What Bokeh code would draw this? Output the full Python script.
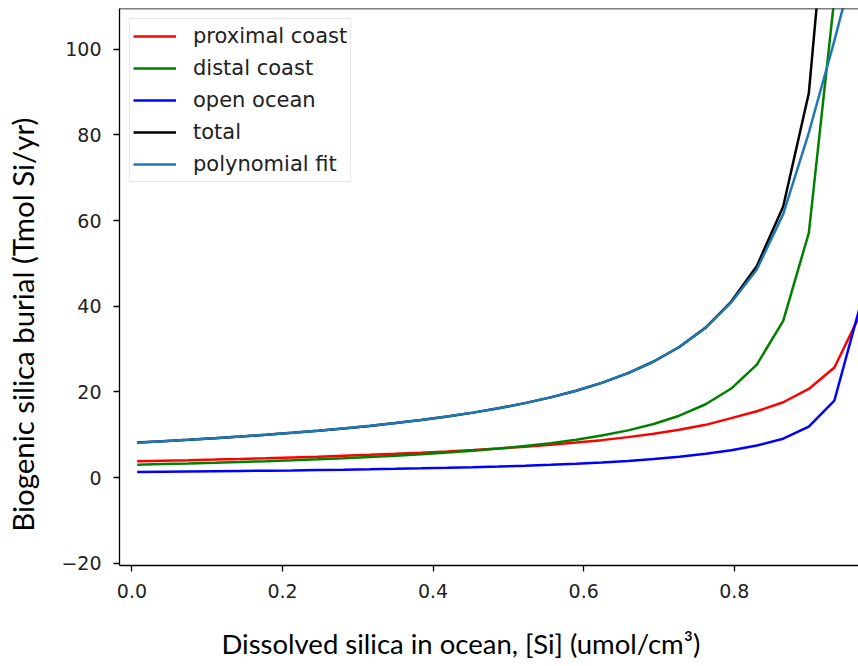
from bokeh.plotting import figure
from bokeh.models import Span, Legend, LegendItem, FixedTicker, LinearAxis
from bokeh.embed import file_html
from bokeh.resources import INLINE

# ---- data ----
si = [0.007, 0.041, 0.075, 0.110, 0.144, 0.178, 0.213, 0.247, 0.281, 0.316,
      0.350, 0.384, 0.419, 0.453, 0.487, 0.522, 0.556, 0.590, 0.624, 0.659,
      0.693, 0.727, 0.762, 0.796, 0.830, 0.865, 0.899, 0.933, 0.967]

proximal = [3.82, 3.94, 4.07, 4.22, 4.37, 4.53, 4.71, 4.89, 5.10, 5.32,
            5.57, 5.83, 6.13, 6.45, 6.81, 7.22, 7.67, 8.18, 8.76, 9.46,
            10.25, 11.18, 12.33, 13.9, 15.5, 17.6, 20.7, 25.7, 38.0]

distal = [3.03, 3.17, 3.31, 3.48, 3.65, 3.84, 4.05, 4.27, 4.52, 4.80,
          5.11, 5.45, 5.85, 6.28, 6.78, 7.38, 8.06, 8.86, 9.82, 11.04,
          12.53, 14.46, 17.13, 20.8, 26.4, 36.6, 57.1, 112.0, 260.0]

open_ocean = [1.35, 1.40, 1.45, 1.51, 1.57, 1.63, 1.70, 1.78, 1.86, 1.96,
              2.06, 2.17, 2.30, 2.45, 2.61, 2.80, 3.01, 3.25, 3.54, 3.90,
              4.33, 4.86, 5.56, 6.4, 7.5, 9.1, 11.9, 18.0, 40.0]

total = [8.20, 8.51, 8.83, 9.21, 9.59, 10.00, 10.46, 10.94, 11.48, 12.08,
         12.74, 13.45, 14.28, 15.18, 16.20, 17.40, 18.74, 20.29, 22.12, 24.40,
         27.11, 30.50, 35.02, 41.1, 49.4, 63.3, 89.7, 155.7, 340.0]

poly_fit = [8.15, 8.50, 8.84, 9.22, 9.60, 10.01, 10.47, 10.95, 11.49, 12.09,
            12.75, 13.46, 14.28, 15.18, 16.20, 17.40, 18.74, 20.29, 22.12, 24.40,
            27.11, 30.50, 35.0, 40.9, 48.6, 61.5, 80.5, 102.0, 125.0]

x_ticks = [0.0, 0.2, 0.4, 0.6, 0.8]
y_ticks = [-20, 0, 20, 40, 60, 80, 100]

x_title = "Dissolved silica in ocean, [Si] (umol/cm\u00b3)"
y_title = "Biogenic silica burial (Tmol Si/yr)"

series = [
    ("proximal coast", proximal, "#ff0000"),
    ("distal coast", distal, "#008000"),
    ("open ocean", open_ocean, "#0000ff"),
    ("total", total, "#000000"),
    ("polynomial fit", poly_fit, "#1f77b4"),
]

p = figure(width=858, height=666, output_backend="svg", toolbar_location=None,
           x_range=(-0.0165, 0.965), y_range=(-20.5, 109.5),
           min_border_left=119, min_border_right=0, min_border_top=8,
           min_border_bottom=101)
p.outline_line_color = None
p.background_fill_color = "white"
p.border_fill_color = "white"
p.xgrid.visible = False
p.ygrid.visible = False

items = []
for name, ys, col in series:
    r = p.line(si, ys, line_color=col, line_width=2.5)
    items.append(LegendItem(label=name, renderers=[r]))

for ax in (p.xaxis[0], p.yaxis[0]):
    ax.axis_line_color = "black"
    ax.axis_line_width = 1.3
    ax.major_tick_line_color = "black"
    ax.major_tick_line_width = 1.3
    ax.major_tick_out = 6
    ax.major_tick_in = 0
    ax.minor_tick_line_color = None
    ax.major_label_text_font = "DejaVu Sans"
    ax.major_label_text_font_size = "19px"
    ax.major_label_text_color = "#222222"
    ax.major_label_standoff = 12

p.xaxis.ticker = FixedTicker(ticks=x_ticks)
p.yaxis.ticker = FixedTicker(ticks=y_ticks)
p.xaxis.major_label_overrides = {t: f"{t:.1f}" for t in x_ticks}
p.yaxis.major_label_overrides = {t: (f"\u2212{abs(t)}" if t < 0 else f"{t}") for t in y_ticks}

# top spine
p.add_layout(Span(location=109.5, dimension="width", line_color="black", line_width=1.3))

legend = Legend(items=items, location="top_left", margin=10,
                label_text_font="DejaVu Sans", label_text_font_size="21px",
                label_text_color="#222222",
                glyph_width=43, glyph_height=28, label_height=28,
                label_standoff=17, spacing=4, padding=3,
                border_line_color="#d0d0d0", border_line_width=1,
                background_fill_color="white", background_fill_alpha=0.8)
p.add_layout(legend)

# axis titles carried by tick-less helper axes; trailing no-break spaces move the
# visible text off the frame centre, as in the reference
def title_axis(text, size, standoff):
    return LinearAxis(ticker=FixedTicker(ticks=[]),
                      axis_line_color=None, major_tick_line_color=None,
                      minor_tick_line_color=None, major_tick_out=0, major_tick_in=0,
                      major_label_standoff=0, major_label_text_font_size="0px",
                      axis_label=text, axis_label_standoff=standoff,
                      axis_label_text_font="Lato", axis_label_text_font_size=size,
                      axis_label_text_font_style="normal", axis_label_text_color="black")

p.add_layout(title_axis(x_title + "\u00a0" * 8, "27.5px", 26), "below")
p.add_layout(title_axis(y_title + "\u00a0" * 10, "29.4px", 19), "left")

open("out.html", "w").write(file_html(p, INLINE))
